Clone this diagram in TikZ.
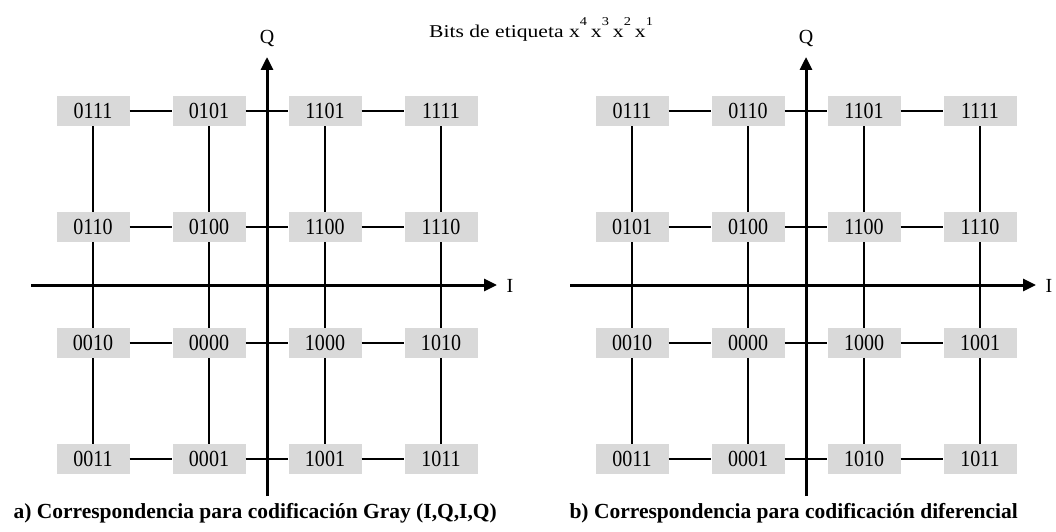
\documentclass[tikz,border=0pt]{standalone}
\usepackage{fontspec}
\setmainfont{Liberation Serif}
\newfontfamily\cellfont{Liberation Serif}[FakeStretch=0.87]
\newfontfamily\titlefont{Liberation Serif}[FakeStretch=1.2]
\usetikzlibrary{arrows.meta}
\definecolor{cellgray}{RGB}{217,217,217}
\newcommand{\tagbit}[1]{x\raisebox{12pt}{\fontsize{12}{12}\selectfont #1}\hspace{4pt}}
\tikzset{
  symbol/.style={fill=cellgray,minimum width=73pt,minimum height=30pt,inner sep=0pt,
    font=\cellfont\fontsize{23}{25}\selectfont},
  wire/.style={line width=1.2pt},
  axis/.style={line width=3pt,-{Triangle[length=13pt,width=12pt]}},
  axislabel/.style={font=\fontsize{20}{22}\selectfont},
  caption/.style={anchor=west,font=\fontsize{21.5}{24}\selectfont\bfseries},
}
\begin{document}
\begin{tikzpicture}[x=1pt,y=-1pt]
  \useasboundingbox (0,0) rectangle (1056,532);
  %% title
  \node[anchor=base west,inner sep=0pt,font=\titlefont\fontsize{18}{22}\selectfont] (title) at (429,38)
    {Bits de etiqueta\ \tagbit{4}\tagbit{3}\tagbit{2}\tagbit{1}};
  %% a) Gray mapping
  \begin{scope}[shift={(267,285)}]
    \foreach \r/\row in {0/{0111,0101,1101,1111},1/{0110,0100,1100,1110},
                         2/{0010,0000,1000,1010},3/{0011,0001,1001,1011}}
      \foreach \sym [count=\c from 0] in \row
        \node[symbol] (a-\r-\c) at (-174+116*\c,-174+116*\r) {\sym};
    \foreach \i/\j in {0/1,1/2,2/3}
      \foreach \k in {0,...,3} {
        \draw[wire] (a-\k-\i) -- (a-\k-\j);
        \draw[wire] (a-\i-\k) -- (a-\j-\k);
      }
    \coordinate (a-w) at (-236,0);
    \coordinate (a-e) at (230,0);
    \coordinate (a-s) at (0,211);
    \coordinate (a-n) at (0,-228);
    \draw[axis] (a-w) -- (a-e);
    \draw[axis] (a-s) -- (a-n);
    \node[axislabel] (a-i) at (243,1) {I};
    \node[axislabel] (a-q) at (0,-246) {Q};
  \end{scope}
  %% b) differential mapping
  \begin{scope}[shift={(806,285)}]
    \foreach \r/\row in {0/{0111,0110,1101,1111},1/{0101,0100,1100,1110},
                         2/{0010,0000,1000,1001},3/{0011,0001,1010,1011}}
      \foreach \sym [count=\c from 0] in \row
        \node[symbol] (b-\r-\c) at (-174+116*\c,-174+116*\r) {\sym};
    \foreach \i/\j in {0/1,1/2,2/3}
      \foreach \k in {0,...,3} {
        \draw[wire] (b-\k-\i) -- (b-\k-\j);
        \draw[wire] (b-\i-\k) -- (b-\j-\k);
      }
    \coordinate (b-w) at (-236,0);
    \coordinate (b-e) at (230,0);
    \coordinate (b-s) at (0,211);
    \coordinate (b-n) at (0,-228);
    \draw[axis] (b-w) -- (b-e);
    \draw[axis] (b-s) -- (b-n);
    \node[axislabel] (b-i) at (243,1) {I};
    \node[axislabel] (b-q) at (0,-246) {Q};
  \end{scope}
  %% captions
  \node[caption] (cap-a) at (10,513) {a) Correspondencia para codificación Gray (I,Q,I,Q)};
  \node[caption] (cap-b) at (566,513) {b) Correspondencia para codificación diferencial};
\end{tikzpicture}
\end{document}
